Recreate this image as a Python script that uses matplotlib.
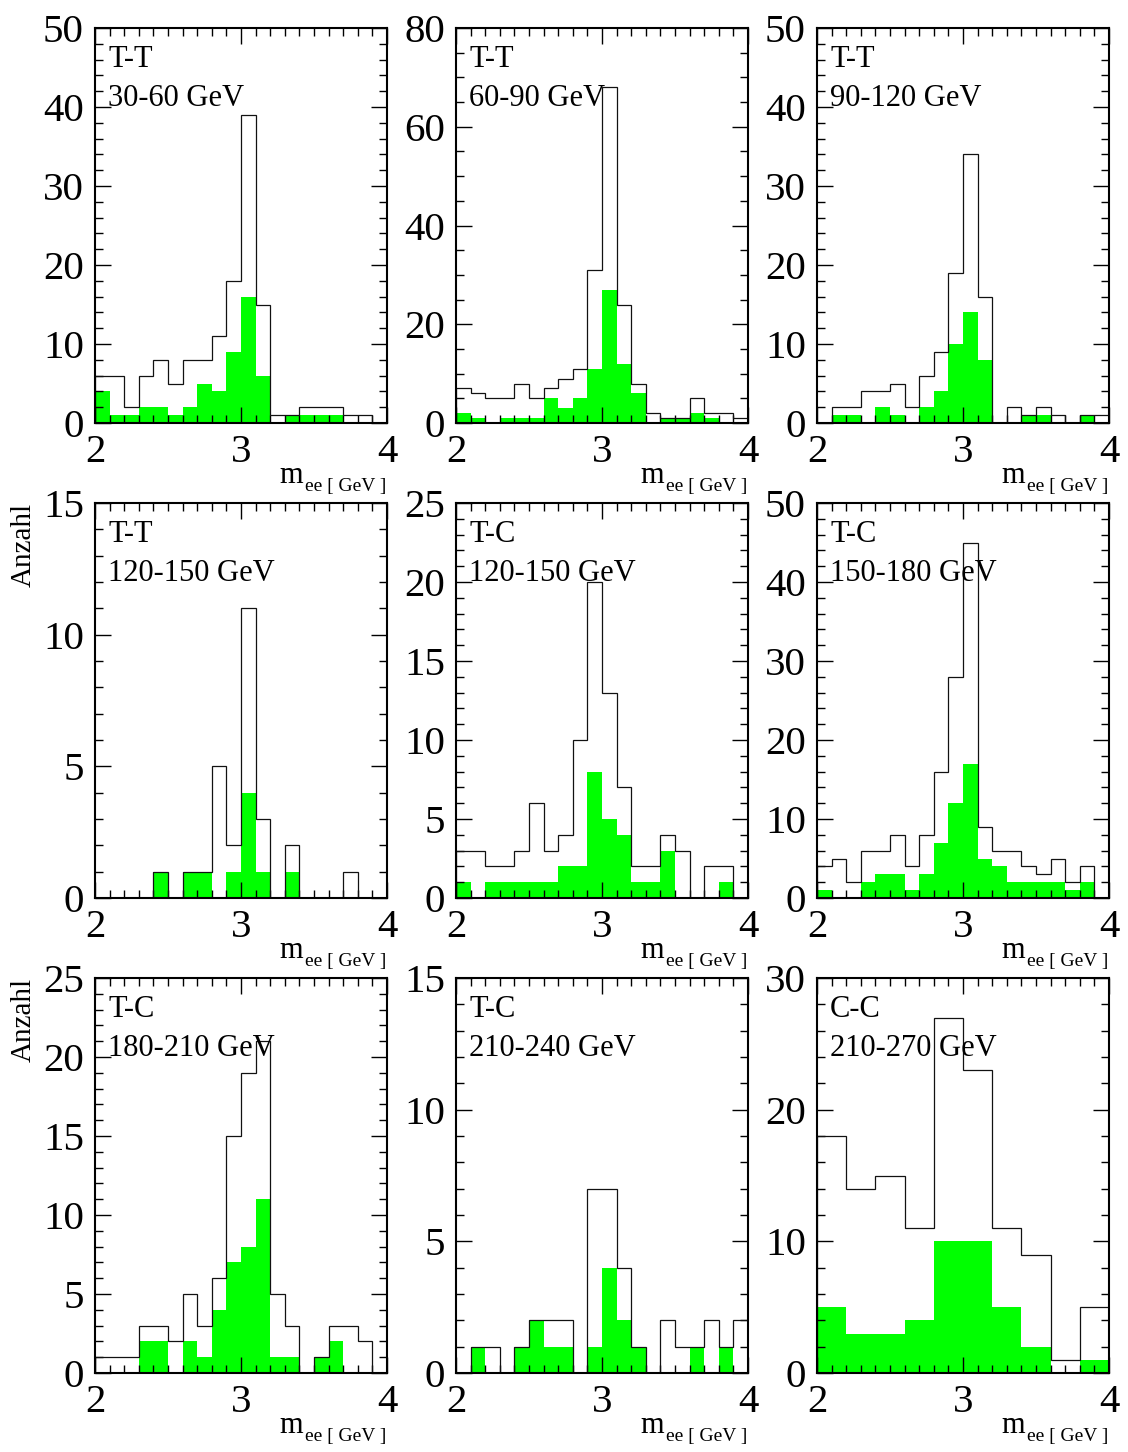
import numpy as np
import matplotlib
matplotlib.use("Agg")
import matplotlib.pyplot as plt
from matplotlib.ticker import MultipleLocator

plt.rcParams['font.family'] = ['Liberation Serif', 'DejaVu Serif']

# ---- data: e+e- invariant mass, all candidates vs. selected (green) ----
categories = ["T-T", "T-T", "T-T", "T-T", "T-C", "T-C", "T-C", "T-C", "C-C"]
energy_ranges = ["30-60 GeV", "60-90 GeV", "90-120 GeV", "120-150 GeV",
                 "120-150 GeV", "150-180 GeV", "180-210 GeV", "210-240 GeV",
                 "210-270 GeV"]

all_tt_30_60 = [6, 6, 2, 6, 8, 5, 8, 8, 11, 18, 39, 15, 1, 1, 2, 2, 2, 1, 1, 0]
sel_tt_30_60 = [4, 1, 1, 2, 2, 1, 2, 5, 4, 9, 16, 6, 0, 1, 1, 1, 1, 0, 0, 0]

all_tt_60_90 = [7, 6, 5, 5, 8, 5, 7, 9, 11, 31, 68, 24, 8, 2, 1, 1, 5, 2, 2, 1]
sel_tt_60_90 = [2, 1, 0, 1, 1, 1, 5, 3, 5, 11, 27, 12, 6, 0, 1, 1, 2, 1, 0, 0]

all_tt_90_120 = [0, 2, 2, 4, 4, 5, 2, 6, 9, 19, 34, 16, 0, 2, 1, 2, 1, 0, 1, 1]
sel_tt_90_120 = [0, 1, 1, 0, 2, 1, 0, 2, 4, 10, 14, 8, 0, 0, 1, 1, 0, 0, 1, 0]

all_tt_120_150 = [0, 0, 0, 0, 1, 0, 1, 1, 5, 2, 11, 3, 0, 2, 0, 0, 0, 1, 0, 0]
sel_tt_120_150 = [0, 0, 0, 0, 1, 0, 1, 1, 0, 1, 4, 1, 0, 1, 0, 0, 0, 0, 0, 0]

all_tc_120_150 = [3, 3, 2, 2, 3, 6, 3, 4, 10, 20, 13, 7, 2, 2, 4, 3, 0, 2, 2, 0]
sel_tc_120_150 = [1, 0, 1, 1, 1, 1, 1, 2, 2, 8, 5, 4, 1, 1, 3, 0, 0, 0, 1, 0]

all_tc_150_180 = [4, 5, 2, 6, 6, 8, 4, 8, 16, 28, 45, 9, 6, 6, 4, 3, 5, 2, 4, 0]
sel_tc_150_180 = [1, 0, 0, 2, 3, 3, 1, 3, 7, 12, 17, 5, 4, 2, 2, 2, 2, 1, 2, 0]

all_tc_180_210 = [1, 1, 1, 3, 3, 2, 5, 3, 6, 15, 19, 21, 5, 3, 0, 1, 3, 3, 2, 0]
sel_tc_180_210 = [0, 0, 0, 2, 2, 0, 2, 1, 4, 7, 8, 11, 1, 1, 0, 1, 2, 0, 0, 0]

all_tc_210_240 = [0, 1, 1, 0, 1, 2, 2, 2, 0, 7, 7, 4, 1, 0, 2, 1, 1, 2, 1, 2]
sel_tc_210_240 = [0, 1, 0, 0, 1, 2, 1, 1, 0, 1, 4, 2, 1, 0, 0, 0, 1, 0, 1, 0]

all_cc_210_270 = [18, 14, 15, 11, 27, 23, 11, 9, 1, 5]
sel_cc_210_270 = [5, 3, 3, 4, 10, 10, 5, 2, 0, 1]

all_counts = [all_tt_30_60, all_tt_60_90, all_tt_90_120, all_tt_120_150,
              all_tc_120_150, all_tc_150_180, all_tc_180_210, all_tc_210_240,
              all_cc_210_270]
sel_counts = [sel_tt_30_60, sel_tt_60_90, sel_tt_90_120, sel_tt_120_150,
              sel_tc_120_150, sel_tc_150_180, sel_tc_180_210, sel_tc_210_240,
              sel_cc_210_270]

y_max = [50, 80, 50, 15, 25, 50, 25, 15, 30]
y_major = [10, 20, 10, 5, 5, 10, 5, 5, 10]
y_minor = [2, 5, 2, 1, 1, 2, 1, 1, 2]

# ---- layout (pixels) ----
W, H = 1128, 1452
col_left = [95, 456, 817]
row_top = [28, 503, 978]
aw, ah = 292, 395

fig = plt.figure(figsize=(W / 100, H / 100), dpi=100)
fig.patch.set_facecolor("white")
renderer = fig.canvas.get_renderer()

for i in range(9):
    r, c = divmod(i, 3)
    ax = fig.add_axes([col_left[c] / W, 1 - (row_top[r] + ah) / H, aw / W, ah / H])
    edges = np.linspace(2, 4, len(all_counts[i]) + 1)
    ax.stairs(sel_counts[i], edges, fill=True, color="#00ff00", lw=0, zorder=1)
    ax.stairs(all_counts[i], edges, color="#111111", lw=0.9, zorder=2)
    ax.set_xlim(2, 4)
    ax.set_ylim(0, y_max[i])
    ax.xaxis.set_major_locator(MultipleLocator(1))
    ax.xaxis.set_minor_locator(MultipleLocator(0.1))
    ax.yaxis.set_major_locator(MultipleLocator(y_major[i]))
    ax.yaxis.set_minor_locator(MultipleLocator(y_minor[i]))
    ax.tick_params(which="both", direction="in", top=True, right=True,
                   width=1.0, colors="black")
    ax.tick_params(which="major", length=11.5, labelsize=29.5)
    ax.tick_params(which="minor", length=5.8)
    ax.tick_params(axis="y", pad=8)
    ax.tick_params(axis="x", pad=8)
    for s in ax.spines.values():
        s.set_linewidth(1.5)

    ax.text(0.045, 0.901, categories[i], transform=ax.transAxes,
            fontsize=22, ha="left", va="baseline", zorder=5)
    ax.text(0.045, 0.803, energy_ranges[i], transform=ax.transAxes,
            fontsize=22, ha="left", va="baseline", zorder=5)

    # axis title: m with subscript "ee [ GeV ]"
    x_right = (col_left[c] + aw - 1) / W
    sub = fig.text(x_right, 1 - (row_top[r] + ah + 68) / H, "ee [ GeV ]",
                   ha="right", va="baseline", fontsize=14)
    bb = sub.get_window_extent(renderer)
    fig.text((bb.x0 - 2) / W, 1 - (row_top[r] + ah + 60) / H, "m",
             ha="right", va="baseline", fontsize=22)

# y-axis title on the lower rows
for r in (1, 2):
    fig.text(24 / W, 1 - row_top[r] / H, "Anzahl", rotation=90,
             ha="center", va="top", fontsize=21)

fig.savefig("out.png", dpi=100)
